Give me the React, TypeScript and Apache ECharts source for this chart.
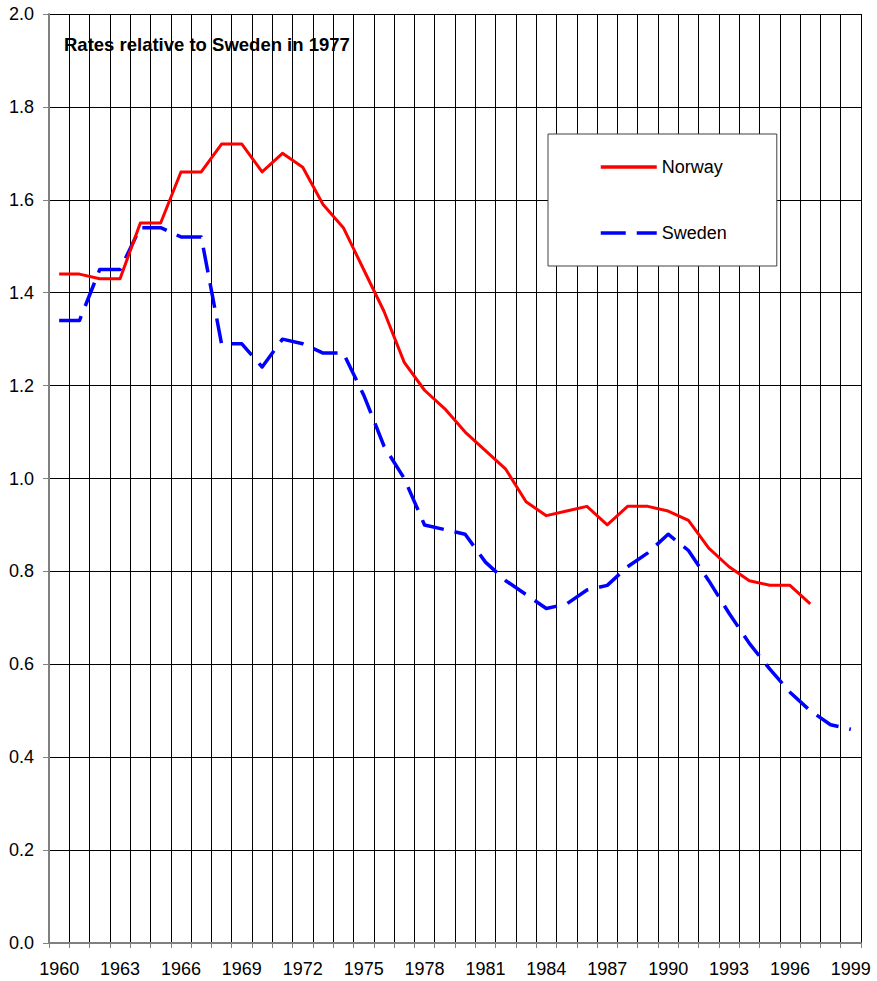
import React, { useEffect, useRef } from "react";
import * as echarts from "echarts";

const years: string[] = [];
for (let y = 1960; y <= 1999; y++) years.push(String(y));

const norway: (number | null)[] = [
  1.44, 1.44, 1.43, 1.43, 1.55, 1.55, 1.66, 1.66, 1.72, 1.72,
  1.66, 1.70, 1.67, 1.59, 1.54, 1.45, 1.36, 1.25, 1.19, 1.15,
  1.10, 1.06, 1.02, 0.95, 0.92, 0.93, 0.94, 0.90, 0.94, 0.94,
  0.93, 0.91, 0.85, 0.81, 0.78, 0.77, 0.77, 0.73, null, null,
];

const sweden: number[] = [
  1.34, 1.34, 1.45, 1.45, 1.54, 1.54, 1.52, 1.52, 1.29, 1.29,
  1.24, 1.30, 1.29, 1.27, 1.27, 1.18, 1.07, 1.00, 0.90, 0.89,
  0.88, 0.82, 0.78, 0.75, 0.72, 0.73, 0.76, 0.77, 0.81, 0.84,
  0.88, 0.845, 0.78, 0.71, 0.645, 0.59, 0.54, 0.50, 0.47, 0.46,
];

const titleText = "Rates relative to Sweden in 1977";
const FONT = "'Liberation Sans', Arial, sans-serif";

export default function App() {
  const ref = useRef<HTMLDivElement>(null);
  useEffect(() => {
    if (!ref.current) return;
    const chart = echarts.init(ref.current, null, { renderer: "svg" });
    chart.setOption({
      animation: false,
      backgroundColor: "#fff",
      title: {
        text: titleText,
        left: 64,
        top: 35,
        padding: 0,
        textStyle: { fontFamily: FONT, fontSize: 18.5, fontWeight: "bold", color: "#000" },
      },
      legend: {
        data: ["Norway", "Sweden"],
        orient: "vertical",
        left: 548,
        top: 134,
        padding: [24, 50, 24, 51],
        itemGap: 48,
        itemWidth: 56,
        itemHeight: 18,
        backgroundColor: "#fff",
        borderColor: "#404040",
        borderWidth: 1,
        borderRadius: 0,
        itemStyle: { opacity: 0, borderWidth: 0 },
        lineStyle: { width: 3.5 },
        textStyle: { fontFamily: FONT, fontSize: 18, color: "#000" },
      },
      grid: { left: 49, right: 16, top: 14, bottom: 38, containLabel: false },
      xAxis: {
        type: "category",
        data: years,
        boundaryGap: true,
        axisLine: { show: true, lineStyle: { color: "#808080", width: 2 } },
        axisTick: { show: true, interval: 0, length: 5, lineStyle: { color: "#808080", width: 1 } },
        axisLabel: { interval: 2, margin: 17, fontFamily: FONT, fontSize: 18, color: "#000" },
        splitLine: { show: true, interval: 0, lineStyle: { color: "#000", width: 1 } },
      },
      yAxis: {
        type: "value",
        min: 0,
        max: 2,
        interval: 0.2,
        axisLine: { show: true, lineStyle: { color: "#808080", width: 2 } },
        axisTick: { show: true, length: 6, lineStyle: { color: "#808080", width: 1 } },
        axisLabel: {
          margin: 15,
          fontFamily: FONT,
          fontSize: 18,
          color: "#000",
          formatter: (v: number) => v.toFixed(1),
        },
        splitLine: { show: true, lineStyle: { color: "#000", width: 1 } },
      },
      series: [
        {
          name: "Norway",
          type: "line",
          data: norway,
          symbol: "none",
          z: 4,
          connectNulls: false,
          lineStyle: { color: "#ff0000", width: 3, join: "round" },
          itemStyle: { color: "#ff0000" },
        },
        {
          name: "Sweden",
          type: "line",
          data: sweden,
          symbol: "none",
          z: 3,
          lineStyle: { color: "#0000ff", width: 3.5, type: [25, 11], join: "round" },
          itemStyle: { color: "#0000ff" },
        },
      ],
    });
    return () => chart.dispose();
  }, []);
  return (
    <div
      ref={ref}
      style={{ position: "fixed", left: 0, top: 0, width: 877, height: 981, background: "#fff" }}
    />
  );
}
